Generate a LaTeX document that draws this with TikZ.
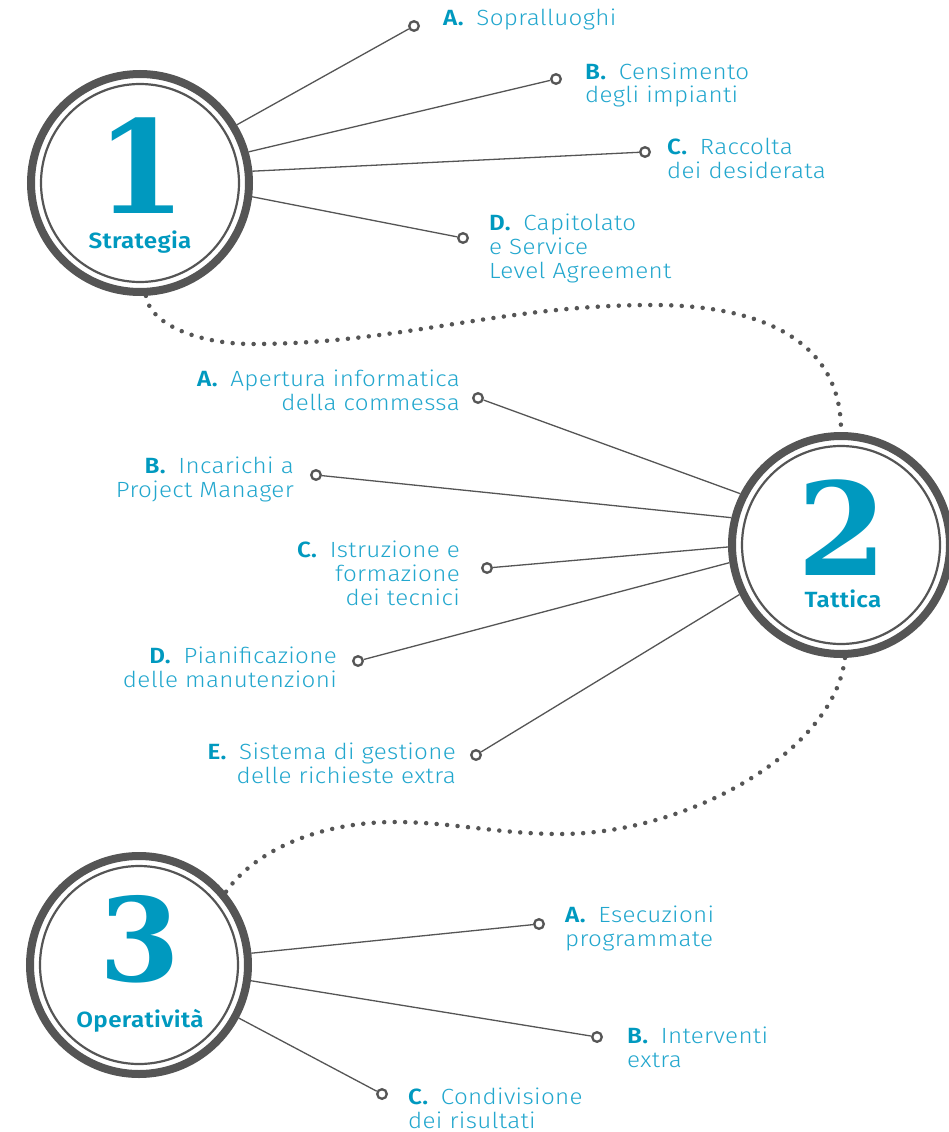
\documentclass[tikz,border=0pt]{standalone}
\usepackage{fontspec}
\setmainfont{Fira Sans Light}[BoldFont={Fira Sans SemiBold}, FakeStretch=1.1, LetterSpace=1.5]
\newfontfamily\numfont{DejaVu Serif}[BoldFont={DejaVu Serif Bold}]
\definecolor{ringgray}{HTML}{555555}
\definecolor{tealA}{HTML}{0099BF}
\definecolor{tealT}{HTML}{22A7CE}
\newcommand{\itm}[2]{{\bfseries\color{tealA}#1.}\hspace{0.58em}#2}
\begin{document}
\begin{tikzpicture}[x=1pt,y=-1pt,
  bigring/.style={circle, draw=ringgray, line width=8pt, minimum size=218pt, inner sep=0pt},
  innerring/.style={draw=ringgray, line width=2.2pt},
  bignum/.style={text=tealA, font=\numfont\bfseries\fontsize{129}{129}\selectfont, inner sep=0pt, text depth=0pt},
  phase/.style={text=tealA, font=\bfseries\fontsize{22}{24}\selectfont, inner sep=0pt},
  lbl/.style={inner sep=0pt, text=tealT, font=\fontsize{22}{24}\selectfont},
  endpt/.style={circle, draw=ringgray, line width=2.3pt, fill=white, minimum size=9.6pt, inner sep=0pt},
  conn/.style={draw=ringgray, line width=1.3pt},
  dotline/.style={draw=ringgray, line width=4.5pt, line cap=round, dash pattern=on 0pt off 10.5pt}
]
\fill[white] (0,0) rectangle (949,1132);
\useasboundingbox (0,0) rectangle (949,1132);

% ---------- circle 1 ----------
\node[bigring] (c1) at (140,183) {};
\draw[innerring] (c1.center) circle[radius=99];
\node[bignum, anchor=base] (n1) at (141,213) {1};
\node[phase, anchor=base] (s1) at (140,248) {Strategia};

% ---------- circle 2 ----------
\node[bigring] (c2) at (841,545) {};
\draw[innerring] (c2.center) circle[radius=99];
\node[bignum, anchor=base] (n2) at (842,575) {2};
\node[phase, anchor=base] (s2) at (843,607) {Tattica};

% ---------- circle 3 ----------
\node[bigring] (c3) at (139,965) {};
\draw[innerring] (c3.center) circle[radius=99];
\node[bignum, anchor=base, font=\numfont\bfseries\fontsize{116}{116}\selectfont] (n3) at (140,981) {3};
\node[phase, anchor=base] (s3) at (140,1027) {Operatività};

% ---------- dotted links ----------
\draw[dotline] (c1.-87) .. controls (150,325) and (200,344) .. (252,344)
  .. controls (400,344) and (500,305) .. (653,305)
  .. controls (760,305) and (842,340) .. (c2.90);
\draw[dotline] (c2.-88) .. controls (835,750) and (690,834) .. (560,834)
  .. controls (500,834) and (450,822) .. (395,822)
  .. controls (320,822) and (255,850) .. (c3.40);

% ---------- endpoints ----------
\node[endpt] (e1a) at (414,26) {};
\node[endpt] (e1b) at (556,79) {};
\node[endpt] (e1c) at (645,152) {};
\node[endpt] (e1d) at (463,238) {};
\node[endpt] (e2a) at (478,398) {};
\node[endpt] (e2b) at (316,475) {};
\node[endpt] (e2c) at (487,568) {};
\node[endpt] (e2d) at (358,661) {};
\node[endpt] (e2e) at (476,755) {};
\node[endpt] (e3a) at (539,924) {};
\node[endpt] (e3b) at (597,1037) {};
\node[endpt] (e3c) at (382,1094) {};

% ---------- connectors ----------
\draw[conn] (c1.31.7) -- (e1a);
\draw[conn] (c1.16.8) -- (e1b);
\draw[conn] (c1.6.6) -- (e1c);
\draw[conn] (c1.-7.1) -- (e1d);
\draw[conn] (c2.153.4) -- (e2a);
\draw[conn] (c2.166.8) -- (e2b);
\draw[conn] (c2.181) -- (e2c);
\draw[conn] (c2.189.2) -- (e2d);
\draw[conn] (c2.206.1) -- (e2e);
\draw[conn] (c3.6) -- (e3a);
\draw[conn] (c3.-8.6) -- (e3b);
\draw[conn] (c3.-28) -- (e3c);

% ---------- labels ----------
\node[lbl, anchor=base west] (t1a) at (443,26) {\itm{A}{Sopralluoghi}};
\node[lbl, anchor=base west] (t1b) at (585,79) {\begin{tabular}[t]{@{}l@{}}\itm{B}{Censimento}\\degli impianti\end{tabular}};
\node[lbl, anchor=base west] (t1c) at (667,154) {\begin{tabular}[t]{@{}l@{}}\itm{C}{Raccolta}\\dei desiderata\end{tabular}};
\node[lbl, anchor=base west] (t1d) at (489,230) {\begin{tabular}[t]{@{}l@{}}\itm{D}{Capitolato}\\e Service\\Level Agreement\end{tabular}};

\node[lbl, anchor=base east] (t2a) at (460,386) {\begin{tabular}[t]{@{}r@{}}\itm{A}{Apertura informatica}\\della commessa\end{tabular}};
\node[lbl, anchor=base east] (t2b) at (294,473) {\begin{tabular}[t]{@{}r@{}}\itm{B}{Incarichi a}\\Project Manager\end{tabular}};
\node[lbl, anchor=base east] (t2c) at (460,557) {\begin{tabular}[t]{@{}r@{}}\itm{C}{Istruzione e}\\formazione\\dei tecnici\end{tabular}};
\node[lbl, anchor=base east] (t2d) at (337,663) {\begin{tabular}[t]{@{}r@{}}\itm{D}{Pianificazione}\\delle manutenzioni\end{tabular}};
\node[lbl, anchor=base east] (t2e) at (456,759) {\begin{tabular}[t]{@{}r@{}}\itm{E}{Sistema di gestione}\\delle richieste extra\end{tabular}};

\node[lbl, anchor=base west] (t3a) at (565,922) {\begin{tabular}[t]{@{}l@{}}\itm{A}{Esecuzioni}\\programmate\end{tabular}};
\node[lbl, anchor=base west] (t3b) at (627,1043) {\begin{tabular}[t]{@{}l@{}}\itm{B}{Interventi}\\extra\end{tabular}};
\node[lbl, anchor=base west] (t3c) at (408,1104) {\begin{tabular}[t]{@{}l@{}}\itm{C}{Condivisione}\\dei risultati\end{tabular}};
\end{tikzpicture}
\end{document}
